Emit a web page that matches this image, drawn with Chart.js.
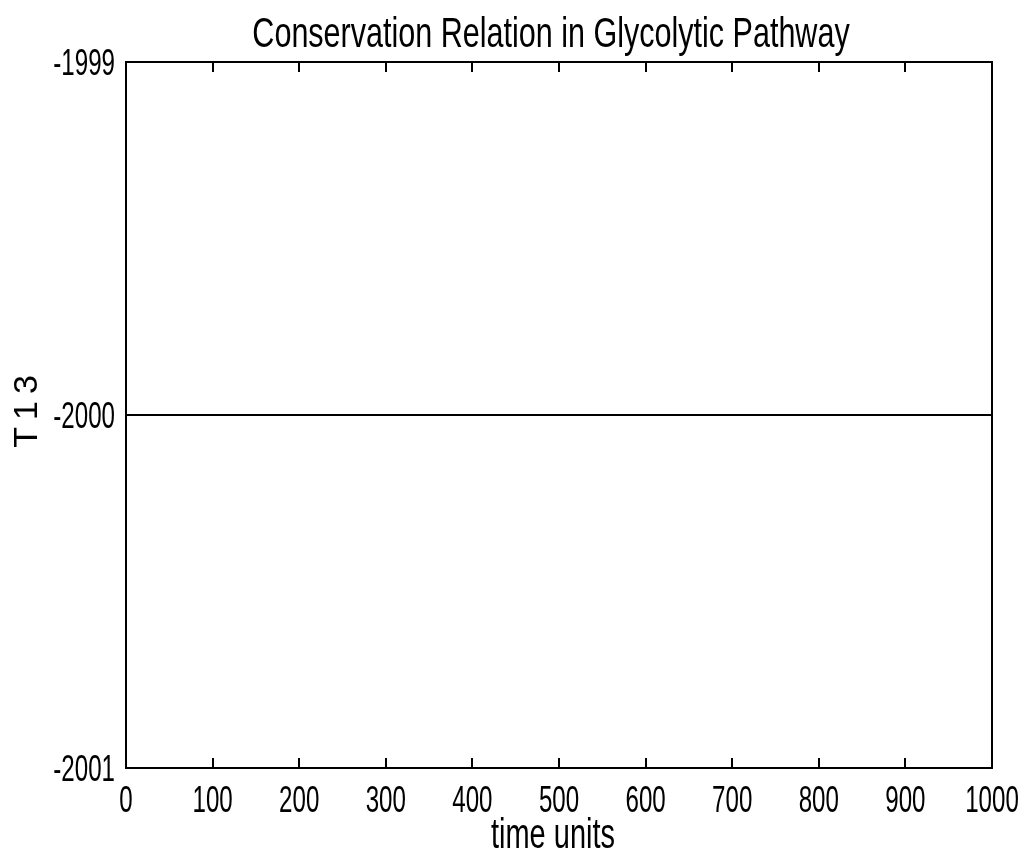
<!DOCTYPE html>
<html>
<head>
<meta charset="utf-8">
<script src="https://cdn.jsdelivr.net/npm/chart.js@4/dist/chart.umd.min.js"></script>
<style>
  html, body { margin: 0; padding: 0; background: #fff; }
  #wrap { width: 1021px; height: 850px; }
</style>
</head>
<body>
<div id="wrap"><canvas id="chart"></canvas></div>
<script>
// time axis samples and the conserved total T13
const timeUnits = [0, 100, 200, 300, 400, 500, 600, 700, 800, 900, 1000];
const t13 = [-2000, -2000, -2000, -2000, -2000, -2000, -2000, -2000, -2000, -2000, -2000];

const titleText = 'Conservation Relation in Glycolytic Pathway';
const xTitle = 'time units';
const yTitle = 'T13';

const FONT = "'Liberation Sans', Arial, Helvetica, sans-serif";

// inward tick marks, matlab style box
const tickGrid = {
    drawOnChartArea: false,
    drawTicks: true,
    tickLength: -10,
    color: '#000',
    lineWidth: 2
};
const boxBorder = { display: true, color: '#000', width: 2 };

function fixSize(prop, size) {
    return s => {
        s[prop] = size;
        s.paddingLeft = s.paddingRight = s.paddingTop = s.paddingBottom = 0;
    };
}

// narrow text, drawn with a horizontal squeeze
function squeezedText(ctx, text, x, y, size, sx, align) {
    ctx.save();
    ctx.translate(x, y);
    ctx.scale(sx, 1);
    ctx.font = size + 'px ' + FONT;
    ctx.textAlign = align;
    ctx.textBaseline = 'alphabetic';
    ctx.fillText(text, 0, 0);
    ctx.restore();
}

const axisText = {
    id: 'axisText',
    afterDraw(chart) {
        const { ctx, chartArea } = chart;
        const xs = chart.scales.x, ys = chart.scales.y;
        ctx.save();
        ctx.fillStyle = '#000';

        xs.ticks.forEach(t => {
            squeezedText(ctx, String(t.value), xs.getPixelForValue(t.value), chartArea.bottom + 44, 36, 0.67, 'center');
        });
        ys.ticks.forEach(t => {
            squeezedText(ctx, String(t.value), chartArea.left - 11, ys.getPixelForValue(t.value) + 13, 36, 0.67, 'right');
        });

        squeezedText(ctx, titleText, (chartArea.left + chartArea.right) / 2 - 8, chartArea.top - 15, 43, 0.71, 'center');
        squeezedText(ctx, xTitle, (chartArea.left + chartArea.right) / 2 - 6, chartArea.bottom + 80, 42, 0.69, 'center');

        // rotated y label
        ctx.save();
        ctx.translate(37, (chartArea.top + chartArea.bottom) / 2 - 4);
        ctx.rotate(-Math.PI / 2);
        ctx.font = '34px ' + FONT;
        ctx.letterSpacing = '7px';
        ctx.textAlign = 'center';
        ctx.textBaseline = 'alphabetic';
        ctx.fillText(yTitle, 3, 0);
        ctx.restore();

        ctx.restore();
    }
};

new Chart(document.getElementById('chart'), {
    type: 'line',
    data: {
        labels: timeUnits,
        datasets: [{
            data: timeUnits.map((t, i) => ({ x: t, y: t13[i] })),
            borderColor: '#000',
            borderWidth: 2,
            pointRadius: 0,
            tension: 0,
            xAxisID: 'x',
            yAxisID: 'y'
        }]
    },
    options: {
        responsive: true,
        maintainAspectRatio: false,
        animation: false,
        layout: { padding: { top: 62, right: 29, bottom: 0, left: 0 } },
        plugins: {
            legend: { display: false },
            tooltip: { enabled: false }
        },
        scales: {
            x: {
                type: 'linear',
                position: 'bottom',
                min: 0,
                max: 1000,
                grid: tickGrid,
                border: boxBorder,
                ticks: { stepSize: 100, display: false },
                afterFit: fixSize('height', 82)
            },
            x2: {
                type: 'linear',
                position: 'top',
                min: 0,
                max: 1000,
                grid: tickGrid,
                border: boxBorder,
                ticks: { stepSize: 100, display: false },
                afterFit: fixSize('height', 0)
            },
            y: {
                type: 'linear',
                position: 'left',
                min: -2001,
                max: -1999,
                grid: tickGrid,
                border: boxBorder,
                ticks: { stepSize: 1, display: false },
                afterFit: fixSize('width', 126)
            },
            y2: {
                type: 'linear',
                position: 'right',
                min: -2001,
                max: -1999,
                grid: tickGrid,
                border: boxBorder,
                ticks: { stepSize: 1, display: false },
                afterFit: fixSize('width', 0)
            }
        }
    },
    plugins: [axisText]
});
</script>
</body>
</html>
